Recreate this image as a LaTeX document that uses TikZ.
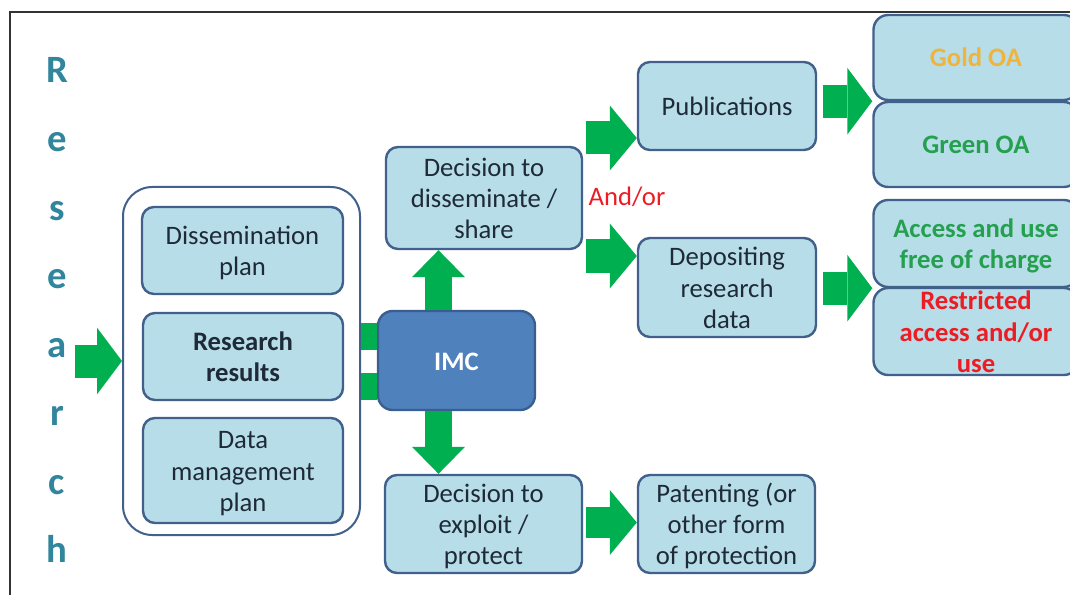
\documentclass[tikz,border=0pt]{standalone}
\usepackage{fontspec}
\setmainfont{Carlito}
\usetikzlibrary{arrows.meta}
\definecolor{boxfill}{HTML}{B7DDE8}
\definecolor{boxline}{HTML}{41608C}
\definecolor{imcfill}{HTML}{4F81BD}
\definecolor{imcline}{HTML}{3A5F8F}
\definecolor{agreen}{HTML}{00B050}
\definecolor{teal}{HTML}{31859C}
\definecolor{txt}{HTML}{1E2A38}
\definecolor{redtxt}{HTML}{ED1C24}
\definecolor{goldtxt}{HTML}{F0B43C}
\definecolor{greentxt}{HTML}{24A04E}
\definecolor{frame}{HTML}{333333}
% struts giving every text block the same top and bottom extent
\newcommand\hstrut{\rule{0pt}{18.45pt}}
\newcommand\dstrut{\rule[-4.2pt]{0pt}{0pt}}
\begin{document}
\begin{tikzpicture}[x=0.75pt,y=-0.75pt,
  bodyfont/.style={font=\fontsize{20}{23.6}\selectfont},
  boldfont/.style={font=\bfseries\fontsize{20}{23.6}\selectfont},
  box/.style={draw=boxline, line width=1.8pt, fill=boxfill, rounded corners=9pt,
    align=center, text=txt, bodyfont, inner sep=0pt},
  outbox/.style={box, rounded corners=11pt, boldfont},
  fat/.style n args={3}{draw=agreen, line width=#1,
    -{Triangle[width=#2,length=#3,line width=0pt]}},
  bar/.style={draw=agreen, line width=20.25pt},
  letter/.style={anchor=base, text=teal, font=\bfseries\fontsize{29}{30}\selectfont, inner sep=0pt}
]
\useasboundingbox (0,0) rectangle (1070,595);
\clip (0,0) rectangle (1070,595);

% outer frame
\draw[frame, line width=1.6pt] (10,596) -- (10,12) -- (1071,12);

% vertical title
\foreach \ch/\yy [count=\i] in {R/83, e/152, s/220.4, e/288.8, a/357.2, r/425.6, c/494, h/562.4}
  \node[letter] (t\i) at (57,\yy) {\ch};

% plans container and its boxes
\node[draw=boxline, line width=1.5pt, fill=white, rounded corners=22pt,
      minimum width=177.75pt, minimum height=261pt] (outer) at (241.5,361) {};
\node[box, minimum width=150.75pt, minimum height=65.25pt] (dplan) at (242.5,250.5) {\hstrut Dissemination\\plan\dstrut};
\node[box, minimum width=150pt, minimum height=65.25pt, boldfont] (rres) at (243,356.5) {\hstrut Research\\results\dstrut};
\node[box, minimum width=150pt, minimum height=78.75pt] (dmp) at (243,470.5) {\hstrut Data\\management\\plan\dstrut};

% IMC
\node[box, draw=imcline, fill=imcfill, text=white, rounded corners=11pt, boldfont,
      minimum width=117.75pt, minimum height=74.25pt] (imc) at (456.5,360.5) {\hstrut IMC\dstrut};

% decisions
\node[box, minimum width=147pt, minimum height=76.5pt] (dec) at (484,198) {\hstrut Decision to\\disseminate /\\share\dstrut};
\node[box, minimum width=147.75pt, minimum height=73.5pt] (exp) at (483.5,524) {\hstrut Decision to\\exploit /\\protect\dstrut};

% outputs
\node[box, minimum width=133.5pt, minimum height=66pt] (pub) at (727,106) {\hstrut Publications\dstrut};
\node[box, minimum width=133.5pt, minimum height=74.25pt] (dep) at (727,287.5) {\hstrut Depositing\\research\\data\dstrut};
\node[box, minimum width=132.75pt, minimum height=73.5pt] (pat) at (726.5,524) {\hstrut Patenting (or\\other form\\of protection\dstrut};

% access routes
\node[outbox, minimum width=153.75pt, minimum height=63.75pt, text=goldtxt] (gold) at (976,57.5) {\hstrut Gold OA\dstrut};
\node[outbox, minimum width=153.75pt, minimum height=63.75pt, text=greentxt] (green) at (976,144.5) {\hstrut Green OA\dstrut};
\node[outbox, minimum width=153.75pt, minimum height=65.25pt, text=greentxt] (acc) at (976,243.5) {\hstrut Access and use\\free of charge\dstrut};
% this box keeps its size; its three lines run over the lower edge
\node[outbox, minimum width=153.75pt, minimum height=65.25pt] (res) at (976,331.5) {};
\node[align=center, boldfont, text=redtxt, inner sep=0pt] (resT) at (res.center) {\hstrut Restricted\\access and/or\\use\dstrut};

\node[text=redtxt, bodyfont, inner sep=0pt] (andor) at (627,197) {And/or};

% helper coordinates for arrow rows and columns
\coordinate (inA) at (75,361);
\coordinate (vx) at (438.5,0);
\coordinate (b1) at (0,336.5);
\coordinate (b2) at (0,386.5);
\coordinate (pA) at (0,138);
\coordinate (dA) at (0,256);
\coordinate (eA) at (0,522.5);

% green arrows
\draw[fat={24.75pt}{50pt}{18.75pt}] (inA) -- (outer.west |- inA);
\draw[bar] (outer.east |- b1) -- (imc.west |- b1);
\draw[bar] (outer.east |- b2) -- (imc.west |- b2);
\draw[fat={20.25pt}{39.75pt}{20.25pt}] (imc.north -| vx) -- (dec.south -| vx);
\draw[fat={20.25pt}{39.75pt}{20.25pt}] (imc.south -| vx) -- (exp.north -| vx);
\draw[fat={24.75pt}{48.75pt}{20.25pt}, shorten <=2.25pt] (dec.east |- pA) -- (pub.west |- pA);
\draw[fat={24.75pt}{48.75pt}{20.25pt}, shorten <=2.25pt] (dec.east |- dA) -- (dep.west |- dA);
\draw[fat={23.25pt}{48.75pt}{20.25pt}, shorten <=2.25pt] (exp.east |- eA) -- (pat.west |- eA);
\draw[fat={24.75pt}{50pt}{18.75pt}, shorten <=4.5pt] (pub.east |- gold.south west) -- (gold.south west);
\draw[fat={24.75pt}{50pt}{18.75pt}, shorten <=4.5pt] (dep.east |- acc.south west) -- (acc.south west);
\end{tikzpicture}
\end{document}
